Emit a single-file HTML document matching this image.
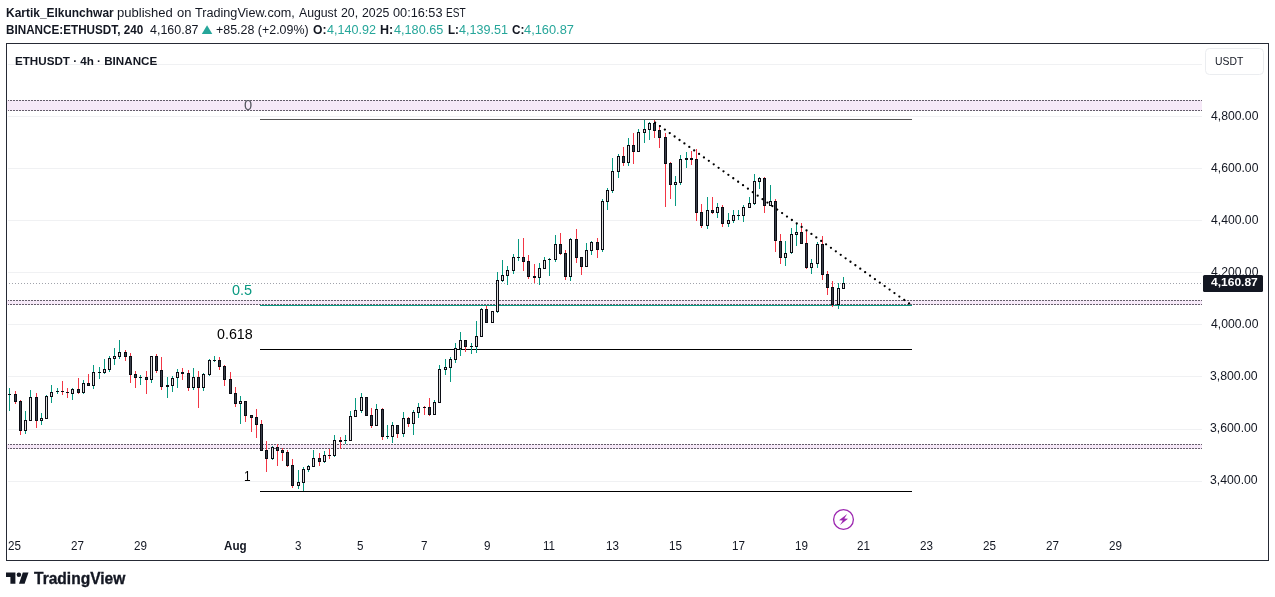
<!DOCTYPE html><html><head><meta charset="utf-8"><title>ETHUSDT chart</title><style>
html,body{margin:0;padding:0;background:#fff;}
body{width:1275px;height:597px;position:relative;overflow:hidden;font-family:"Liberation Sans", "DejaVu Sans", sans-serif;}
svg{position:absolute;left:0;top:0;}
.t{position:absolute;white-space:pre;line-height:1;transform-origin:0 0;}
</style></head><body>
<svg width="1275" height="597" viewBox="0 0 1275 597" shape-rendering="crispEdges">
<rect x="8" y="64" width="1194" height="1" fill="#f0f1f3"/>
<rect x="8" y="116" width="1194" height="1" fill="#f0f1f3"/>
<rect x="8" y="168" width="1194" height="1" fill="#f0f1f3"/>
<rect x="8" y="220" width="1194" height="1" fill="#f0f1f3"/>
<rect x="8" y="272" width="1194" height="1" fill="#f0f1f3"/>
<rect x="8" y="324" width="1194" height="1" fill="#f0f1f3"/>
<rect x="8" y="376" width="1194" height="1" fill="#f0f1f3"/>
<rect x="8" y="429" width="1194" height="1" fill="#f0f1f3"/>
<rect x="8" y="481" width="1194" height="1" fill="#f0f1f3"/>
<rect x="7" y="100" width="1195" height="11" fill="#f6e9f8"/>
<line x1="7" y1="100.5" x2="1202" y2="100.5" stroke="#645e6a" stroke-width="1" stroke-dasharray="2 1"/>
<rect x="7" y="100" width="1" height="1" fill="#f6e9f8"/>
<line x1="7" y1="110.5" x2="1202" y2="110.5" stroke="#645e6a" stroke-width="1" stroke-dasharray="2 1"/>
<rect x="7" y="110" width="1" height="1" fill="#f6e9f8"/>
<rect x="7" y="300" width="1195" height="5" fill="#f6e9f8"/>
<line x1="7" y1="300.5" x2="1202" y2="300.5" stroke="#645e6a" stroke-width="1" stroke-dasharray="2 1"/>
<rect x="7" y="300" width="1" height="1" fill="#f6e9f8"/>
<line x1="7" y1="304.5" x2="1202" y2="304.5" stroke="#645e6a" stroke-width="1" stroke-dasharray="2 1"/>
<rect x="7" y="304" width="1" height="1" fill="#f6e9f8"/>
<rect x="7" y="444" width="1195" height="5" fill="#f6e9f8"/>
<line x1="7" y1="444.5" x2="1202" y2="444.5" stroke="#645e6a" stroke-width="1" stroke-dasharray="2 1"/>
<rect x="7" y="444" width="1" height="1" fill="#f6e9f8"/>
<line x1="7" y1="448.5" x2="1202" y2="448.5" stroke="#645e6a" stroke-width="1" stroke-dasharray="2 1"/>
<rect x="7" y="448" width="1" height="1" fill="#f6e9f8"/>
<line x1="9" y1="283.5" x2="1202" y2="283.5" stroke="#a0a3ab" stroke-width="1" stroke-dasharray="1 2"/>
<rect x="260" y="119" width="652" height="1" fill="#555"/>
<rect x="260" y="305" width="652" height="1" fill="#089981"/>
<rect x="260" y="349" width="652" height="1" fill="#000"/>
<rect x="260" y="491" width="652" height="1" fill="#000"/>
<rect x="9" y="388" width="1" height="23" fill="#089981"/>
<rect x="8" y="394" width="3" height="1" fill="#0b0d14"/>
<rect x="15" y="391" width="1" height="13" fill="#f23645"/>
<rect x="14" y="394" width="3" height="8" fill="#0b0d14"/>
<rect x="15" y="395" width="1" height="6" fill="#3a3e4a"/>
<rect x="20" y="400" width="1" height="35" fill="#f23645"/>
<rect x="19" y="401" width="3" height="30" fill="#0b0d14"/>
<rect x="20" y="402" width="1" height="28" fill="#3a3e4a"/>
<rect x="25" y="411" width="1" height="23" fill="#089981"/>
<rect x="24" y="420" width="3" height="11" fill="#0b0d14"/>
<rect x="25" y="421" width="1" height="9" fill="#dedede"/>
<rect x="30" y="390" width="1" height="31" fill="#089981"/>
<rect x="29" y="397" width="3" height="24" fill="#0b0d14"/>
<rect x="30" y="398" width="1" height="22" fill="#dedede"/>
<rect x="36" y="393" width="1" height="35" fill="#f23645"/>
<rect x="35" y="397" width="3" height="24" fill="#0b0d14"/>
<rect x="36" y="398" width="1" height="22" fill="#3a3e4a"/>
<rect x="41" y="413" width="1" height="12" fill="#089981"/>
<rect x="40" y="418" width="3" height="3" fill="#0b0d14"/>
<rect x="41" y="419" width="1" height="1" fill="#dedede"/>
<rect x="46" y="395" width="1" height="24" fill="#089981"/>
<rect x="45" y="396" width="3" height="23" fill="#0b0d14"/>
<rect x="46" y="397" width="1" height="21" fill="#dedede"/>
<rect x="51" y="385" width="1" height="18" fill="#089981"/>
<rect x="50" y="392" width="3" height="5" fill="#0b0d14"/>
<rect x="51" y="393" width="1" height="3" fill="#dedede"/>
<rect x="57" y="388" width="1" height="6" fill="#089981"/>
<rect x="56" y="391" width="3" height="1" fill="#0b0d14"/>
<rect x="62" y="381" width="1" height="14" fill="#f23645"/>
<rect x="61" y="391" width="3" height="1" fill="#0b0d14"/>
<rect x="67" y="388" width="1" height="10" fill="#f23645"/>
<rect x="66" y="392" width="3" height="1" fill="#0b0d14"/>
<rect x="72" y="388" width="1" height="12" fill="#089981"/>
<rect x="71" y="389" width="3" height="5" fill="#0b0d14"/>
<rect x="72" y="390" width="1" height="3" fill="#dedede"/>
<rect x="78" y="378" width="1" height="16" fill="#f23645"/>
<rect x="77" y="389" width="3" height="4" fill="#0b0d14"/>
<rect x="78" y="390" width="1" height="2" fill="#3a3e4a"/>
<rect x="83" y="380" width="1" height="14" fill="#089981"/>
<rect x="82" y="383" width="3" height="10" fill="#0b0d14"/>
<rect x="83" y="384" width="1" height="8" fill="#dedede"/>
<rect x="88" y="374" width="1" height="12" fill="#f23645"/>
<rect x="87" y="383" width="3" height="3" fill="#0b0d14"/>
<rect x="88" y="384" width="1" height="1" fill="#3a3e4a"/>
<rect x="93" y="365" width="1" height="24" fill="#089981"/>
<rect x="92" y="372" width="3" height="14" fill="#0b0d14"/>
<rect x="93" y="373" width="1" height="12" fill="#dedede"/>
<rect x="99" y="367" width="1" height="12" fill="#089981"/>
<rect x="98" y="372" width="3" height="1" fill="#0b0d14"/>
<rect x="104" y="359" width="1" height="15" fill="#089981"/>
<rect x="103" y="369" width="3" height="4" fill="#0b0d14"/>
<rect x="104" y="370" width="1" height="2" fill="#dedede"/>
<rect x="109" y="356" width="1" height="16" fill="#089981"/>
<rect x="108" y="358" width="3" height="12" fill="#0b0d14"/>
<rect x="109" y="359" width="1" height="10" fill="#dedede"/>
<rect x="114" y="348" width="1" height="17" fill="#089981"/>
<rect x="113" y="356" width="3" height="3" fill="#0b0d14"/>
<rect x="114" y="357" width="1" height="1" fill="#dedede"/>
<rect x="119" y="340" width="1" height="19" fill="#089981"/>
<rect x="118" y="352" width="3" height="5" fill="#0b0d14"/>
<rect x="119" y="353" width="1" height="3" fill="#dedede"/>
<rect x="125" y="350" width="1" height="11" fill="#f23645"/>
<rect x="124" y="352" width="3" height="5" fill="#0b0d14"/>
<rect x="125" y="353" width="1" height="3" fill="#3a3e4a"/>
<rect x="130" y="353" width="1" height="30" fill="#f23645"/>
<rect x="129" y="356" width="3" height="19" fill="#0b0d14"/>
<rect x="130" y="357" width="1" height="17" fill="#3a3e4a"/>
<rect x="135" y="371" width="1" height="17" fill="#f23645"/>
<rect x="134" y="374" width="3" height="4" fill="#0b0d14"/>
<rect x="135" y="375" width="1" height="2" fill="#3a3e4a"/>
<rect x="140" y="375" width="1" height="10" fill="#089981"/>
<rect x="139" y="377" width="3" height="1" fill="#0b0d14"/>
<rect x="146" y="371" width="1" height="23" fill="#f23645"/>
<rect x="145" y="377" width="3" height="3" fill="#0b0d14"/>
<rect x="146" y="378" width="1" height="1" fill="#3a3e4a"/>
<rect x="151" y="356" width="1" height="27" fill="#089981"/>
<rect x="150" y="356" width="3" height="24" fill="#0b0d14"/>
<rect x="151" y="357" width="1" height="22" fill="#dedede"/>
<rect x="156" y="354" width="1" height="19" fill="#f23645"/>
<rect x="155" y="356" width="3" height="15" fill="#0b0d14"/>
<rect x="156" y="357" width="1" height="13" fill="#3a3e4a"/>
<rect x="161" y="357" width="1" height="33" fill="#f23645"/>
<rect x="160" y="370" width="3" height="17" fill="#0b0d14"/>
<rect x="161" y="371" width="1" height="15" fill="#3a3e4a"/>
<rect x="167" y="377" width="1" height="21" fill="#089981"/>
<rect x="166" y="385" width="3" height="2" fill="#0b0d14"/>
<rect x="172" y="376" width="1" height="16" fill="#089981"/>
<rect x="171" y="378" width="3" height="8" fill="#0b0d14"/>
<rect x="172" y="379" width="1" height="6" fill="#dedede"/>
<rect x="177" y="369" width="1" height="19" fill="#089981"/>
<rect x="176" y="372" width="3" height="6" fill="#0b0d14"/>
<rect x="177" y="373" width="1" height="4" fill="#dedede"/>
<rect x="182" y="368" width="1" height="12" fill="#f23645"/>
<rect x="181" y="372" width="3" height="2" fill="#0b0d14"/>
<rect x="188" y="370" width="1" height="21" fill="#f23645"/>
<rect x="187" y="373" width="3" height="15" fill="#0b0d14"/>
<rect x="188" y="374" width="1" height="13" fill="#3a3e4a"/>
<rect x="193" y="368" width="1" height="22" fill="#089981"/>
<rect x="192" y="377" width="3" height="11" fill="#0b0d14"/>
<rect x="193" y="378" width="1" height="9" fill="#dedede"/>
<rect x="198" y="371" width="1" height="37" fill="#f23645"/>
<rect x="197" y="377" width="3" height="11" fill="#0b0d14"/>
<rect x="198" y="378" width="1" height="9" fill="#3a3e4a"/>
<rect x="203" y="373" width="1" height="18" fill="#089981"/>
<rect x="202" y="374" width="3" height="14" fill="#0b0d14"/>
<rect x="203" y="375" width="1" height="12" fill="#dedede"/>
<rect x="209" y="359" width="1" height="17" fill="#089981"/>
<rect x="208" y="360" width="3" height="15" fill="#0b0d14"/>
<rect x="209" y="361" width="1" height="13" fill="#dedede"/>
<rect x="214" y="356" width="1" height="6" fill="#089981"/>
<rect x="213" y="360" width="3" height="1" fill="#0b0d14"/>
<rect x="219" y="357" width="1" height="13" fill="#f23645"/>
<rect x="218" y="360" width="3" height="7" fill="#0b0d14"/>
<rect x="219" y="361" width="1" height="5" fill="#3a3e4a"/>
<rect x="224" y="365" width="1" height="21" fill="#f23645"/>
<rect x="223" y="366" width="3" height="14" fill="#0b0d14"/>
<rect x="224" y="367" width="1" height="12" fill="#3a3e4a"/>
<rect x="230" y="372" width="1" height="22" fill="#f23645"/>
<rect x="229" y="379" width="3" height="15" fill="#0b0d14"/>
<rect x="230" y="380" width="1" height="13" fill="#3a3e4a"/>
<rect x="235" y="387" width="1" height="20" fill="#f23645"/>
<rect x="234" y="393" width="3" height="11" fill="#0b0d14"/>
<rect x="235" y="394" width="1" height="9" fill="#3a3e4a"/>
<rect x="240" y="396" width="1" height="28" fill="#089981"/>
<rect x="239" y="401" width="3" height="3" fill="#0b0d14"/>
<rect x="240" y="402" width="1" height="1" fill="#dedede"/>
<rect x="245" y="401" width="1" height="21" fill="#f23645"/>
<rect x="244" y="401" width="3" height="15" fill="#0b0d14"/>
<rect x="245" y="402" width="1" height="13" fill="#3a3e4a"/>
<rect x="251" y="415" width="1" height="17" fill="#f23645"/>
<rect x="250" y="415" width="3" height="3" fill="#0b0d14"/>
<rect x="251" y="416" width="1" height="1" fill="#3a3e4a"/>
<rect x="256" y="409" width="1" height="29" fill="#f23645"/>
<rect x="255" y="417" width="3" height="8" fill="#0b0d14"/>
<rect x="256" y="418" width="1" height="6" fill="#3a3e4a"/>
<rect x="261" y="420" width="1" height="31" fill="#f23645"/>
<rect x="260" y="424" width="3" height="27" fill="#0b0d14"/>
<rect x="261" y="425" width="1" height="25" fill="#3a3e4a"/>
<rect x="266" y="441" width="1" height="31" fill="#f23645"/>
<rect x="265" y="450" width="3" height="9" fill="#0b0d14"/>
<rect x="266" y="451" width="1" height="7" fill="#3a3e4a"/>
<rect x="272" y="446" width="1" height="14" fill="#089981"/>
<rect x="271" y="447" width="3" height="12" fill="#0b0d14"/>
<rect x="272" y="448" width="1" height="10" fill="#dedede"/>
<rect x="277" y="444" width="1" height="22" fill="#f23645"/>
<rect x="276" y="447" width="3" height="4" fill="#0b0d14"/>
<rect x="277" y="448" width="1" height="2" fill="#3a3e4a"/>
<rect x="282" y="448" width="1" height="13" fill="#f23645"/>
<rect x="281" y="450" width="3" height="3" fill="#0b0d14"/>
<rect x="282" y="451" width="1" height="1" fill="#3a3e4a"/>
<rect x="287" y="450" width="1" height="17" fill="#f23645"/>
<rect x="286" y="452" width="3" height="14" fill="#0b0d14"/>
<rect x="287" y="453" width="1" height="12" fill="#3a3e4a"/>
<rect x="292" y="459" width="1" height="29" fill="#f23645"/>
<rect x="291" y="465" width="3" height="21" fill="#0b0d14"/>
<rect x="292" y="466" width="1" height="19" fill="#3a3e4a"/>
<rect x="298" y="470" width="1" height="19" fill="#089981"/>
<rect x="297" y="482" width="3" height="4" fill="#0b0d14"/>
<rect x="298" y="483" width="1" height="2" fill="#dedede"/>
<rect x="303" y="467" width="1" height="24" fill="#089981"/>
<rect x="302" y="469" width="3" height="14" fill="#0b0d14"/>
<rect x="303" y="470" width="1" height="12" fill="#dedede"/>
<rect x="308" y="465" width="1" height="7" fill="#089981"/>
<rect x="307" y="466" width="3" height="4" fill="#0b0d14"/>
<rect x="308" y="467" width="1" height="2" fill="#dedede"/>
<rect x="313" y="450" width="1" height="17" fill="#089981"/>
<rect x="312" y="458" width="3" height="9" fill="#0b0d14"/>
<rect x="313" y="459" width="1" height="7" fill="#dedede"/>
<rect x="319" y="453" width="1" height="13" fill="#f23645"/>
<rect x="318" y="458" width="3" height="4" fill="#0b0d14"/>
<rect x="319" y="459" width="1" height="2" fill="#3a3e4a"/>
<rect x="324" y="451" width="1" height="12" fill="#089981"/>
<rect x="323" y="455" width="3" height="7" fill="#0b0d14"/>
<rect x="324" y="456" width="1" height="5" fill="#dedede"/>
<rect x="329" y="449" width="1" height="10" fill="#f23645"/>
<rect x="328" y="455" width="3" height="1" fill="#0b0d14"/>
<rect x="334" y="435" width="1" height="22" fill="#089981"/>
<rect x="333" y="440" width="3" height="16" fill="#0b0d14"/>
<rect x="334" y="441" width="1" height="14" fill="#dedede"/>
<rect x="340" y="437" width="1" height="12" fill="#f23645"/>
<rect x="339" y="440" width="3" height="2" fill="#0b0d14"/>
<rect x="345" y="435" width="1" height="9" fill="#089981"/>
<rect x="344" y="440" width="3" height="1" fill="#0b0d14"/>
<rect x="350" y="411" width="1" height="30" fill="#089981"/>
<rect x="349" y="416" width="3" height="25" fill="#0b0d14"/>
<rect x="350" y="417" width="1" height="23" fill="#dedede"/>
<rect x="355" y="398" width="1" height="19" fill="#089981"/>
<rect x="354" y="410" width="3" height="7" fill="#0b0d14"/>
<rect x="355" y="411" width="1" height="5" fill="#dedede"/>
<rect x="361" y="393" width="1" height="20" fill="#089981"/>
<rect x="360" y="397" width="3" height="14" fill="#0b0d14"/>
<rect x="361" y="398" width="1" height="12" fill="#dedede"/>
<rect x="366" y="397" width="1" height="19" fill="#f23645"/>
<rect x="365" y="397" width="3" height="19" fill="#0b0d14"/>
<rect x="366" y="398" width="1" height="17" fill="#3a3e4a"/>
<rect x="371" y="408" width="1" height="20" fill="#f23645"/>
<rect x="370" y="415" width="3" height="11" fill="#0b0d14"/>
<rect x="371" y="416" width="1" height="9" fill="#3a3e4a"/>
<rect x="376" y="404" width="1" height="22" fill="#089981"/>
<rect x="375" y="409" width="3" height="17" fill="#0b0d14"/>
<rect x="376" y="410" width="1" height="15" fill="#dedede"/>
<rect x="382" y="408" width="1" height="32" fill="#f23645"/>
<rect x="381" y="409" width="3" height="28" fill="#0b0d14"/>
<rect x="382" y="410" width="1" height="26" fill="#3a3e4a"/>
<rect x="387" y="425" width="1" height="14" fill="#089981"/>
<rect x="386" y="436" width="3" height="1" fill="#0b0d14"/>
<rect x="392" y="422" width="1" height="21" fill="#089981"/>
<rect x="391" y="425" width="3" height="12" fill="#0b0d14"/>
<rect x="392" y="426" width="1" height="10" fill="#dedede"/>
<rect x="397" y="425" width="1" height="13" fill="#f23645"/>
<rect x="396" y="425" width="3" height="9" fill="#0b0d14"/>
<rect x="397" y="426" width="1" height="7" fill="#3a3e4a"/>
<rect x="403" y="412" width="1" height="25" fill="#089981"/>
<rect x="402" y="418" width="3" height="16" fill="#0b0d14"/>
<rect x="403" y="419" width="1" height="14" fill="#dedede"/>
<rect x="408" y="417" width="1" height="10" fill="#f23645"/>
<rect x="407" y="418" width="3" height="6" fill="#0b0d14"/>
<rect x="408" y="419" width="1" height="4" fill="#3a3e4a"/>
<rect x="413" y="410" width="1" height="25" fill="#089981"/>
<rect x="412" y="412" width="3" height="12" fill="#0b0d14"/>
<rect x="413" y="413" width="1" height="10" fill="#dedede"/>
<rect x="418" y="403" width="1" height="15" fill="#089981"/>
<rect x="417" y="407" width="3" height="6" fill="#0b0d14"/>
<rect x="418" y="408" width="1" height="4" fill="#dedede"/>
<rect x="424" y="406" width="1" height="9" fill="#f23645"/>
<rect x="423" y="407" width="3" height="1" fill="#0b0d14"/>
<rect x="429" y="398" width="1" height="18" fill="#f23645"/>
<rect x="428" y="407" width="3" height="8" fill="#0b0d14"/>
<rect x="429" y="408" width="1" height="6" fill="#3a3e4a"/>
<rect x="434" y="400" width="1" height="15" fill="#089981"/>
<rect x="433" y="402" width="3" height="13" fill="#0b0d14"/>
<rect x="434" y="403" width="1" height="11" fill="#dedede"/>
<rect x="439" y="365" width="1" height="38" fill="#089981"/>
<rect x="438" y="369" width="3" height="34" fill="#0b0d14"/>
<rect x="439" y="370" width="1" height="32" fill="#dedede"/>
<rect x="445" y="359" width="1" height="16" fill="#089981"/>
<rect x="444" y="367" width="3" height="3" fill="#0b0d14"/>
<rect x="445" y="368" width="1" height="1" fill="#dedede"/>
<rect x="450" y="357" width="1" height="25" fill="#089981"/>
<rect x="449" y="359" width="3" height="9" fill="#0b0d14"/>
<rect x="450" y="360" width="1" height="7" fill="#dedede"/>
<rect x="455" y="343" width="1" height="20" fill="#089981"/>
<rect x="454" y="348" width="3" height="12" fill="#0b0d14"/>
<rect x="455" y="349" width="1" height="10" fill="#dedede"/>
<rect x="460" y="332" width="1" height="24" fill="#089981"/>
<rect x="459" y="340" width="3" height="9" fill="#0b0d14"/>
<rect x="460" y="341" width="1" height="7" fill="#dedede"/>
<rect x="465" y="340" width="1" height="12" fill="#f23645"/>
<rect x="464" y="340" width="3" height="7" fill="#0b0d14"/>
<rect x="465" y="341" width="1" height="5" fill="#3a3e4a"/>
<rect x="471" y="343" width="1" height="11" fill="#089981"/>
<rect x="470" y="346" width="3" height="1" fill="#0b0d14"/>
<rect x="476" y="321" width="1" height="32" fill="#089981"/>
<rect x="475" y="336" width="3" height="11" fill="#0b0d14"/>
<rect x="476" y="337" width="1" height="9" fill="#dedede"/>
<rect x="481" y="308" width="1" height="29" fill="#089981"/>
<rect x="480" y="309" width="3" height="28" fill="#0b0d14"/>
<rect x="481" y="310" width="1" height="26" fill="#dedede"/>
<rect x="486" y="306" width="1" height="17" fill="#f23645"/>
<rect x="485" y="309" width="3" height="14" fill="#0b0d14"/>
<rect x="486" y="310" width="1" height="12" fill="#3a3e4a"/>
<rect x="492" y="311" width="1" height="12" fill="#089981"/>
<rect x="491" y="311" width="3" height="12" fill="#0b0d14"/>
<rect x="492" y="312" width="1" height="10" fill="#dedede"/>
<rect x="497" y="272" width="1" height="41" fill="#089981"/>
<rect x="496" y="280" width="3" height="32" fill="#0b0d14"/>
<rect x="497" y="281" width="1" height="30" fill="#dedede"/>
<rect x="502" y="260" width="1" height="22" fill="#089981"/>
<rect x="501" y="275" width="3" height="6" fill="#0b0d14"/>
<rect x="502" y="276" width="1" height="4" fill="#dedede"/>
<rect x="507" y="266" width="1" height="19" fill="#089981"/>
<rect x="506" y="270" width="3" height="6" fill="#0b0d14"/>
<rect x="507" y="271" width="1" height="4" fill="#dedede"/>
<rect x="513" y="254" width="1" height="20" fill="#089981"/>
<rect x="512" y="257" width="3" height="14" fill="#0b0d14"/>
<rect x="513" y="258" width="1" height="12" fill="#dedede"/>
<rect x="518" y="239" width="1" height="22" fill="#089981"/>
<rect x="517" y="257" width="3" height="1" fill="#0b0d14"/>
<rect x="523" y="238" width="1" height="33" fill="#f23645"/>
<rect x="522" y="257" width="3" height="5" fill="#0b0d14"/>
<rect x="523" y="258" width="1" height="3" fill="#3a3e4a"/>
<rect x="528" y="255" width="1" height="24" fill="#f23645"/>
<rect x="527" y="261" width="3" height="16" fill="#0b0d14"/>
<rect x="528" y="262" width="1" height="14" fill="#3a3e4a"/>
<rect x="534" y="264" width="1" height="19" fill="#f23645"/>
<rect x="533" y="276" width="3" height="2" fill="#0b0d14"/>
<rect x="539" y="263" width="1" height="22" fill="#089981"/>
<rect x="538" y="268" width="3" height="10" fill="#0b0d14"/>
<rect x="539" y="269" width="1" height="8" fill="#dedede"/>
<rect x="544" y="257" width="1" height="12" fill="#089981"/>
<rect x="543" y="260" width="3" height="9" fill="#0b0d14"/>
<rect x="544" y="261" width="1" height="7" fill="#dedede"/>
<rect x="549" y="258" width="1" height="18" fill="#089981"/>
<rect x="548" y="259" width="3" height="1" fill="#0b0d14"/>
<rect x="555" y="235" width="1" height="27" fill="#089981"/>
<rect x="554" y="244" width="3" height="16" fill="#0b0d14"/>
<rect x="555" y="245" width="1" height="14" fill="#dedede"/>
<rect x="560" y="233" width="1" height="22" fill="#f23645"/>
<rect x="559" y="244" width="3" height="10" fill="#0b0d14"/>
<rect x="560" y="245" width="1" height="8" fill="#3a3e4a"/>
<rect x="565" y="250" width="1" height="30" fill="#f23645"/>
<rect x="564" y="253" width="3" height="24" fill="#0b0d14"/>
<rect x="565" y="254" width="1" height="22" fill="#3a3e4a"/>
<rect x="570" y="238" width="1" height="43" fill="#089981"/>
<rect x="569" y="239" width="3" height="38" fill="#0b0d14"/>
<rect x="570" y="240" width="1" height="36" fill="#dedede"/>
<rect x="576" y="229" width="1" height="34" fill="#f23645"/>
<rect x="575" y="239" width="3" height="19" fill="#0b0d14"/>
<rect x="576" y="240" width="1" height="17" fill="#3a3e4a"/>
<rect x="581" y="257" width="1" height="18" fill="#f23645"/>
<rect x="580" y="257" width="3" height="10" fill="#0b0d14"/>
<rect x="581" y="258" width="1" height="8" fill="#3a3e4a"/>
<rect x="586" y="243" width="1" height="24" fill="#089981"/>
<rect x="585" y="250" width="3" height="17" fill="#0b0d14"/>
<rect x="586" y="251" width="1" height="15" fill="#dedede"/>
<rect x="591" y="241" width="1" height="14" fill="#089981"/>
<rect x="590" y="242" width="3" height="9" fill="#0b0d14"/>
<rect x="591" y="243" width="1" height="7" fill="#dedede"/>
<rect x="597" y="238" width="1" height="20" fill="#f23645"/>
<rect x="596" y="242" width="3" height="8" fill="#0b0d14"/>
<rect x="597" y="243" width="1" height="6" fill="#3a3e4a"/>
<rect x="602" y="199" width="1" height="53" fill="#089981"/>
<rect x="601" y="201" width="3" height="49" fill="#0b0d14"/>
<rect x="602" y="202" width="1" height="47" fill="#dedede"/>
<rect x="607" y="188" width="1" height="22" fill="#089981"/>
<rect x="606" y="190" width="3" height="12" fill="#0b0d14"/>
<rect x="607" y="191" width="1" height="10" fill="#dedede"/>
<rect x="612" y="158" width="1" height="35" fill="#089981"/>
<rect x="611" y="171" width="3" height="20" fill="#0b0d14"/>
<rect x="612" y="172" width="1" height="18" fill="#dedede"/>
<rect x="618" y="154" width="1" height="24" fill="#089981"/>
<rect x="617" y="156" width="3" height="16" fill="#0b0d14"/>
<rect x="618" y="157" width="1" height="14" fill="#dedede"/>
<rect x="623" y="147" width="1" height="19" fill="#f23645"/>
<rect x="622" y="156" width="3" height="7" fill="#0b0d14"/>
<rect x="623" y="157" width="1" height="5" fill="#3a3e4a"/>
<rect x="628" y="138" width="1" height="28" fill="#089981"/>
<rect x="627" y="145" width="3" height="18" fill="#0b0d14"/>
<rect x="628" y="146" width="1" height="16" fill="#dedede"/>
<rect x="633" y="133" width="1" height="31" fill="#f23645"/>
<rect x="632" y="145" width="3" height="7" fill="#0b0d14"/>
<rect x="633" y="146" width="1" height="5" fill="#3a3e4a"/>
<rect x="638" y="129" width="1" height="23" fill="#089981"/>
<rect x="637" y="132" width="3" height="20" fill="#0b0d14"/>
<rect x="638" y="133" width="1" height="18" fill="#dedede"/>
<rect x="644" y="120" width="1" height="23" fill="#089981"/>
<rect x="643" y="129" width="3" height="4" fill="#0b0d14"/>
<rect x="644" y="130" width="1" height="2" fill="#dedede"/>
<rect x="649" y="122" width="1" height="18" fill="#089981"/>
<rect x="648" y="123" width="3" height="7" fill="#0b0d14"/>
<rect x="649" y="124" width="1" height="5" fill="#dedede"/>
<rect x="654" y="120" width="1" height="18" fill="#f23645"/>
<rect x="653" y="123" width="3" height="8" fill="#0b0d14"/>
<rect x="654" y="124" width="1" height="6" fill="#3a3e4a"/>
<rect x="659" y="125" width="1" height="23" fill="#f23645"/>
<rect x="658" y="130" width="3" height="8" fill="#0b0d14"/>
<rect x="659" y="131" width="1" height="6" fill="#3a3e4a"/>
<rect x="665" y="133" width="1" height="74" fill="#f23645"/>
<rect x="664" y="137" width="3" height="27" fill="#0b0d14"/>
<rect x="665" y="138" width="1" height="25" fill="#3a3e4a"/>
<rect x="670" y="162" width="1" height="37" fill="#f23645"/>
<rect x="669" y="163" width="3" height="22" fill="#0b0d14"/>
<rect x="670" y="164" width="1" height="20" fill="#3a3e4a"/>
<rect x="675" y="176" width="1" height="30" fill="#089981"/>
<rect x="674" y="182" width="3" height="3" fill="#0b0d14"/>
<rect x="675" y="183" width="1" height="1" fill="#dedede"/>
<rect x="680" y="155" width="1" height="30" fill="#089981"/>
<rect x="679" y="159" width="3" height="24" fill="#0b0d14"/>
<rect x="680" y="160" width="1" height="22" fill="#dedede"/>
<rect x="686" y="152" width="1" height="16" fill="#089981"/>
<rect x="685" y="158" width="3" height="2" fill="#0b0d14"/>
<rect x="691" y="151" width="1" height="14" fill="#f23645"/>
<rect x="690" y="158" width="3" height="2" fill="#0b0d14"/>
<rect x="696" y="149" width="1" height="72" fill="#f23645"/>
<rect x="695" y="159" width="3" height="54" fill="#0b0d14"/>
<rect x="696" y="160" width="1" height="52" fill="#3a3e4a"/>
<rect x="701" y="204" width="1" height="24" fill="#f23645"/>
<rect x="700" y="212" width="3" height="14" fill="#0b0d14"/>
<rect x="701" y="213" width="1" height="12" fill="#3a3e4a"/>
<rect x="707" y="197" width="1" height="32" fill="#089981"/>
<rect x="706" y="210" width="3" height="16" fill="#0b0d14"/>
<rect x="707" y="211" width="1" height="14" fill="#dedede"/>
<rect x="712" y="197" width="1" height="17" fill="#f23645"/>
<rect x="711" y="210" width="3" height="3" fill="#0b0d14"/>
<rect x="712" y="211" width="1" height="1" fill="#3a3e4a"/>
<rect x="717" y="203" width="1" height="15" fill="#089981"/>
<rect x="716" y="207" width="3" height="6" fill="#0b0d14"/>
<rect x="717" y="208" width="1" height="4" fill="#dedede"/>
<rect x="722" y="205" width="1" height="22" fill="#f23645"/>
<rect x="721" y="207" width="3" height="17" fill="#0b0d14"/>
<rect x="722" y="208" width="1" height="15" fill="#3a3e4a"/>
<rect x="728" y="213" width="1" height="14" fill="#089981"/>
<rect x="727" y="220" width="3" height="4" fill="#0b0d14"/>
<rect x="728" y="221" width="1" height="2" fill="#dedede"/>
<rect x="733" y="210" width="1" height="13" fill="#089981"/>
<rect x="732" y="215" width="3" height="6" fill="#0b0d14"/>
<rect x="733" y="216" width="1" height="4" fill="#dedede"/>
<rect x="738" y="210" width="1" height="10" fill="#089981"/>
<rect x="737" y="215" width="3" height="1" fill="#0b0d14"/>
<rect x="743" y="205" width="1" height="17" fill="#089981"/>
<rect x="742" y="207" width="3" height="9" fill="#0b0d14"/>
<rect x="743" y="208" width="1" height="7" fill="#dedede"/>
<rect x="749" y="197" width="1" height="11" fill="#089981"/>
<rect x="748" y="203" width="3" height="5" fill="#0b0d14"/>
<rect x="749" y="204" width="1" height="3" fill="#dedede"/>
<rect x="754" y="174" width="1" height="31" fill="#089981"/>
<rect x="753" y="181" width="3" height="23" fill="#0b0d14"/>
<rect x="754" y="182" width="1" height="21" fill="#dedede"/>
<rect x="759" y="177" width="1" height="12" fill="#089981"/>
<rect x="758" y="178" width="3" height="4" fill="#0b0d14"/>
<rect x="759" y="179" width="1" height="2" fill="#dedede"/>
<rect x="764" y="177" width="1" height="36" fill="#f23645"/>
<rect x="763" y="178" width="3" height="28" fill="#0b0d14"/>
<rect x="764" y="179" width="1" height="26" fill="#3a3e4a"/>
<rect x="770" y="185" width="1" height="21" fill="#089981"/>
<rect x="769" y="201" width="3" height="5" fill="#0b0d14"/>
<rect x="770" y="202" width="1" height="3" fill="#dedede"/>
<rect x="775" y="199" width="1" height="53" fill="#f23645"/>
<rect x="774" y="201" width="3" height="40" fill="#0b0d14"/>
<rect x="775" y="202" width="1" height="38" fill="#3a3e4a"/>
<rect x="780" y="234" width="1" height="30" fill="#f23645"/>
<rect x="779" y="241" width="3" height="17" fill="#0b0d14"/>
<rect x="780" y="242" width="1" height="15" fill="#3a3e4a"/>
<rect x="785" y="241" width="1" height="25" fill="#089981"/>
<rect x="784" y="253" width="3" height="5" fill="#0b0d14"/>
<rect x="785" y="254" width="1" height="3" fill="#dedede"/>
<rect x="791" y="228" width="1" height="26" fill="#089981"/>
<rect x="790" y="234" width="3" height="19" fill="#0b0d14"/>
<rect x="791" y="235" width="1" height="17" fill="#dedede"/>
<rect x="796" y="223" width="1" height="23" fill="#089981"/>
<rect x="795" y="232" width="3" height="3" fill="#0b0d14"/>
<rect x="796" y="233" width="1" height="1" fill="#dedede"/>
<rect x="801" y="223" width="1" height="21" fill="#f23645"/>
<rect x="800" y="232" width="3" height="12" fill="#0b0d14"/>
<rect x="801" y="233" width="1" height="10" fill="#3a3e4a"/>
<rect x="806" y="230" width="1" height="39" fill="#f23645"/>
<rect x="805" y="243" width="3" height="25" fill="#0b0d14"/>
<rect x="806" y="244" width="1" height="23" fill="#3a3e4a"/>
<rect x="811" y="259" width="1" height="15" fill="#089981"/>
<rect x="810" y="263" width="3" height="5" fill="#0b0d14"/>
<rect x="811" y="264" width="1" height="3" fill="#dedede"/>
<rect x="817" y="242" width="1" height="26" fill="#089981"/>
<rect x="816" y="244" width="3" height="20" fill="#0b0d14"/>
<rect x="817" y="245" width="1" height="18" fill="#dedede"/>
<rect x="822" y="236" width="1" height="44" fill="#f23645"/>
<rect x="821" y="244" width="3" height="31" fill="#0b0d14"/>
<rect x="822" y="245" width="1" height="29" fill="#3a3e4a"/>
<rect x="827" y="271" width="1" height="24" fill="#f23645"/>
<rect x="826" y="274" width="3" height="14" fill="#0b0d14"/>
<rect x="827" y="275" width="1" height="12" fill="#3a3e4a"/>
<rect x="832" y="281" width="1" height="26" fill="#f23645"/>
<rect x="831" y="287" width="3" height="18" fill="#0b0d14"/>
<rect x="832" y="288" width="1" height="16" fill="#3a3e4a"/>
<rect x="838" y="283" width="1" height="26" fill="#089981"/>
<rect x="837" y="288" width="3" height="17" fill="#0b0d14"/>
<rect x="838" y="289" width="1" height="15" fill="#dedede"/>
<rect x="843" y="277" width="1" height="12" fill="#089981"/>
<rect x="842" y="283" width="3" height="6" fill="#0b0d14"/>
<rect x="843" y="284" width="1" height="4" fill="#dedede"/>
<line x1="655.1" y1="122.6" x2="909.5" y2="303.78" stroke="#000" stroke-width="2.3" stroke-linecap="round" stroke-dasharray="0 5.997" shape-rendering="geometricPrecision"/>
<g transform="translate(843.5 519.5)" shape-rendering="geometricPrecision"><circle r="9.9" fill="#fff" stroke="#9c27b0" stroke-width="1.3"/><path d="M3.7,-5.4 L-4.5,0.7 L-0.7,1.0 L-3.5,5.4 L4.5,-0.7 L0.8,-1.0 Z" fill="#9c27b0"/></g>
<rect x="1203" y="275" width="60" height="17" rx="1.5" fill="#131722" shape-rendering="geometricPrecision"/>
<rect x="1205.5" y="48.5" width="58" height="26" rx="4" fill="#fff" stroke="#ebedf0" stroke-width="1" shape-rendering="geometricPrecision"/>
<rect x="6.5" y="43.5" width="1262" height="517" fill="none" stroke="#262a35" stroke-width="1"/>
<path d="M201.8,33.9 L212.3,33.9 L207.05,25.2 Z" fill="#26a69a" shape-rendering="geometricPrecision"/>
<g fill="#131722" shape-rendering="geometricPrecision"><path d="M6,572.4 H15.4 V583.7 H10.4 V577 H6 Z"/><circle cx="18.9" cy="574.7" r="2.25"/><path d="M22.8,572.4 H28.5 L24.6,583.7 H19.0 Z"/></g>
</svg>
<div class="t" id="h1a" style="left:6.25px;top:6.94px;font-size:12px;font-weight:700;color:#131722;transform:scaleX(0.9967);">Kartik_Elkunchwar</div>
<div class="t" id="h1w0" style="left:117.47px;top:6.94px;font-size:12px;font-weight:400;color:#131722;transform:scaleX(1.0874);">published</div>
<div class="t" id="h1w1" style="left:176.96px;top:6.94px;font-size:12px;font-weight:400;color:#131722;transform:scaleX(1.0833);">on</div>
<div class="t" id="h1w2" style="left:194.59px;top:6.94px;font-size:12px;font-weight:400;color:#131722;transform:scaleX(1.0535);">TradingView.com,</div>
<div class="t" id="h1w3" style="left:298.85px;top:6.94px;font-size:12px;font-weight:400;color:#131722;transform:scaleX(1.0201);">August</div>
<div class="t" id="h1w4" style="left:340.99px;top:6.94px;font-size:12px;font-weight:400;color:#131722;transform:scaleX(1.0295);">20,</div>
<div class="t" id="h1w5" style="left:361.62px;top:6.94px;font-size:12px;font-weight:400;color:#131722;transform:scaleX(1.0252);">2025</div>
<div class="t" id="h1w6" style="left:393.17px;top:6.94px;font-size:12px;font-weight:400;color:#131722;transform:scaleX(1.0601);">00:16:53</div>
<div class="t" id="h1w7" style="left:446.31px;top:6.94px;font-size:12px;font-weight:400;color:#131722;transform:scaleX(0.8409);">EST</div>
<div class="t" id="h2a" style="left:6.27px;top:23.74px;font-size:12px;font-weight:700;color:#131722;transform:scaleX(0.9749);">BINANCE:ETHUSDT, 240</div>
<div class="t" id="h2b" style="left:149.88px;top:23.74px;font-size:12px;font-weight:400;color:#131722;transform:scaleX(1.0383);">4,160.87</div>
<div class="t" id="h2c" style="left:215.77px;top:23.74px;font-size:12px;font-weight:400;color:#131722;transform:scaleX(1.0364);">+85.28 (+2.09%)</div>
<div class="t" id="h2d" style="left:312.84px;top:23.74px;font-size:12px;font-weight:700;color:#131722;transform:scaleX(1.0128);">O:</div>
<div class="t" id="h2e" style="left:327.02px;top:23.74px;font-size:12px;font-weight:400;color:#26a69a;transform:scaleX(1.0492);">4,140.92</div>
<div class="t" id="h2f" style="left:380.22px;top:23.74px;font-size:12px;font-weight:700;color:#131722;transform:scaleX(1.0419);">H:</div>
<div class="t" id="h2g" style="left:394.24px;top:23.74px;font-size:12px;font-weight:400;color:#26a69a;transform:scaleX(1.0565);">4,180.65</div>
<div class="t" id="h2h" style="left:447.92px;top:23.74px;font-size:12px;font-weight:700;color:#131722;transform:scaleX(0.9622);">L:</div>
<div class="t" id="h2i" style="left:459.02px;top:23.74px;font-size:12px;font-weight:400;color:#26a69a;transform:scaleX(1.0492);">4,139.51</div>
<div class="t" id="h2j" style="left:511.86px;top:23.74px;font-size:12px;font-weight:700;color:#131722;transform:scaleX(0.9818);">C:</div>
<div class="t" id="h2k" style="left:524.02px;top:23.74px;font-size:12px;font-weight:400;color:#26a69a;transform:scaleX(1.0689);">4,160.87</div>
<div class="t" id="ttl" style="left:14.58px;top:55.53px;font-size:11.3px;font-weight:700;color:#131722;transform:scaleX(1.0299);">ETHUSDT · 4h · BINANCE</div>
<div class="t" id="usdt" style="left:1215.32px;top:56.47px;font-size:11.5px;font-weight:400;color:#131722;transform:scaleX(0.9025);">USDT</div>
<div class="t" id="p4800" style="left:1210.54px;top:109.74px;font-size:12px;font-weight:400;color:#131722;transform:scaleX(1.0152);">4,800.00</div>
<div class="t" id="p4600" style="left:1210.54px;top:161.80px;font-size:12px;font-weight:400;color:#131722;transform:scaleX(1.0152);">4,600.00</div>
<div class="t" id="p4400" style="left:1210.54px;top:213.86px;font-size:12px;font-weight:400;color:#131722;transform:scaleX(1.0152);">4,400.00</div>
<div class="t" id="p4200" style="left:1210.54px;top:265.92px;font-size:12px;font-weight:400;color:#131722;transform:scaleX(1.0152);">4,200.00</div>
<div class="t" id="p4000" style="left:1210.54px;top:317.98px;font-size:12px;font-weight:400;color:#131722;transform:scaleX(1.0152);">4,000.00</div>
<div class="t" id="p3800" style="left:1210.28px;top:370.04px;font-size:12px;font-weight:400;color:#131722;transform:scaleX(1.0208);">3,800.00</div>
<div class="t" id="p3600" style="left:1210.28px;top:422.10px;font-size:12px;font-weight:400;color:#131722;transform:scaleX(1.0208);">3,600.00</div>
<div class="t" id="p3400" style="left:1210.28px;top:474.16px;font-size:12px;font-weight:400;color:#131722;transform:scaleX(1.0208);">3,400.00</div>
<div class="t" id="last" style="left:1211.09px;top:277.17px;font-size:11.5px;font-weight:700;color:#ffffff;transform:scaleX(1.0455);">4,160.87</div>
<div class="t" id="x0" style="left:7.83px;top:539.64px;font-size:12px;font-weight:400;color:#131722;transform:scaleX(0.9700);">25</div>
<div class="t" id="x1" style="left:70.72px;top:539.64px;font-size:12px;font-weight:400;color:#131722;transform:scaleX(0.9700);">27</div>
<div class="t" id="x2" style="left:134.11px;top:539.64px;font-size:12px;font-weight:400;color:#131722;transform:scaleX(0.9700);">29</div>
<div class="t" id="x3" style="left:224.04px;top:539.64px;font-size:12px;font-weight:700;color:#131722;transform:scaleX(0.9700);">Aug</div>
<div class="t" id="x4" style="left:294.67px;top:539.64px;font-size:12px;font-weight:400;color:#131722;transform:scaleX(0.9700);">3</div>
<div class="t" id="x5" style="left:357.47px;top:539.64px;font-size:12px;font-weight:400;color:#131722;transform:scaleX(0.9700);">5</div>
<div class="t" id="x6" style="left:420.59px;top:539.64px;font-size:12px;font-weight:400;color:#131722;transform:scaleX(0.9700);">7</div>
<div class="t" id="x7" style="left:483.59px;top:539.64px;font-size:12px;font-weight:400;color:#131722;transform:scaleX(0.9700);">9</div>
<div class="t" id="x8" style="left:543.29px;top:539.64px;font-size:12px;font-weight:400;color:#131722;transform:scaleX(0.9700);">11</div>
<div class="t" id="x9" style="left:605.80px;top:539.64px;font-size:12px;font-weight:400;color:#131722;transform:scaleX(0.9700);">13</div>
<div class="t" id="x10" style="left:668.80px;top:539.64px;font-size:12px;font-weight:400;color:#131722;transform:scaleX(0.9700);">15</div>
<div class="t" id="x11" style="left:731.92px;top:539.64px;font-size:12px;font-weight:400;color:#131722;transform:scaleX(0.9700);">17</div>
<div class="t" id="x12" style="left:794.65px;top:539.64px;font-size:12px;font-weight:400;color:#131722;transform:scaleX(0.9700);">19</div>
<div class="t" id="x13" style="left:857.11px;top:539.64px;font-size:12px;font-weight:400;color:#131722;transform:scaleX(0.9700);">21</div>
<div class="t" id="x14" style="left:919.92px;top:539.64px;font-size:12px;font-weight:400;color:#131722;transform:scaleX(0.9700);">23</div>
<div class="t" id="x15" style="left:983.08px;top:539.64px;font-size:12px;font-weight:400;color:#131722;transform:scaleX(0.9700);">25</div>
<div class="t" id="x16" style="left:1045.97px;top:539.64px;font-size:12px;font-weight:400;color:#131722;transform:scaleX(0.9700);">27</div>
<div class="t" id="x17" style="left:1108.70px;top:539.64px;font-size:12px;font-weight:400;color:#131722;transform:scaleX(0.9700);">29</div>
<div class="t" id="f0" style="left:244.26px;top:98.45px;font-size:14px;font-weight:400;color:#55575f;transform:scaleX(1.0519);">0</div>
<div class="t" id="f5" style="left:231.98px;top:283.25px;font-size:14px;font-weight:400;color:#089981;transform:scaleX(1.0324);">0.5</div>
<div class="t" id="f618" style="left:216.78px;top:326.95px;font-size:14px;font-weight:400;color:#000000;transform:scaleX(1.0193);">0.618</div>
<div class="t" id="f1" style="left:244.20px;top:469.15px;font-size:14px;font-weight:400;color:#000000;transform:scaleX(0.8500);">1</div>
<div class="t" id="logo" style="left:33.64px;top:569.92px;font-size:16.4px;font-weight:700;color:#131722;transform:scaleX(0.9486);-webkit-text-stroke:0.35px #131722;">TradingView</div>
</body></html>
